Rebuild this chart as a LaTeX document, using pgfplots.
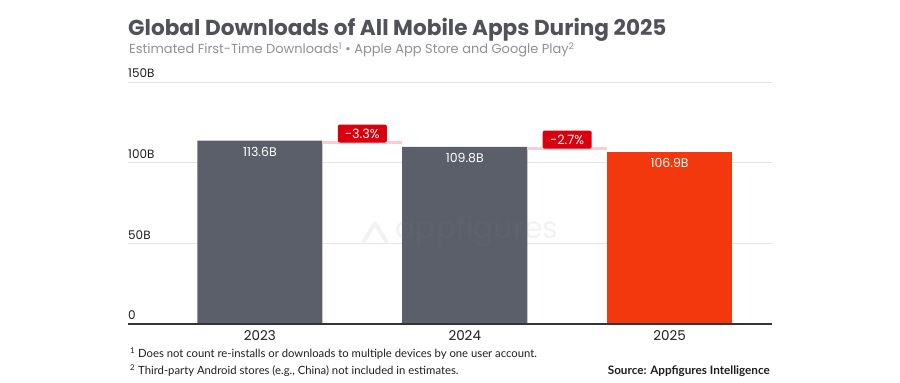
\documentclass[border=0pt]{standalone}
\usepackage{pgfplots}
\pgfplotsset{compat=1.18}
\usepackage{fontspec}
\setmainfont{Poppins}
\newfontfamily\notefont{Lato}
\definecolor{bargray}{HTML}{5A5F6A}
\definecolor{barorange}{HTML}{F2380C}
\definecolor{badgered}{HTML}{D8000F}
\definecolor{pinkline}{HTML}{F9CDD1}
\definecolor{gridgray}{HTML}{E4E4E6}
\definecolor{titlegray}{HTML}{505257}
\definecolor{subgray}{HTML}{8E9095}
\definecolor{textdark}{HTML}{1E1E22}
\begin{document}
\begin{tikzpicture}
\begin{axis}[
  anchor=south west, at={(0pt,0pt)}, scale only axis,
  width=644pt, height=242pt,
  xmin=-0.644, xmax=2.5, ymin=0, ymax=150,
  ytick={0,50,100,150}, yticklabels={0,50B,100B,150B},
  xtick={0,1,2}, xticklabels={2023,2024,2025},
  ymajorgrids, grid style={draw=gridgray, line width=0.7pt},
  axis line style={draw=none}, tick style={draw=none},
  /pgf/number format/assume math mode=true,
  yticklabel style={anchor=south west, inner sep=0pt, yshift=4pt, text=textdark, font=\fontsize{12}{12}\selectfont},
  xticklabel style={text=textdark, font=\fontsize{13.5}{13.5}\selectfont, yshift=1.5pt},
  ybar, bar width=125pt, bar shift=0pt,
  nodes near coords={\pgfmathprintnumber[fixed,fixed zerofill,precision=1]{\pgfplotspointmeta}B},
  every node near coord/.append style={anchor=north, yshift=-3pt, text=white, font=\fontsize{12.5}{12.5}\selectfont},
  clip=false,
]
\addplot[fill=bargray, draw=none] coordinates {(0,113.6) (1,109.8)};
\addplot[fill=barorange, draw=none] coordinates {(2,106.9)};
\draw[pinkline, line width=3pt] (axis cs:0.305,112.4) -- (axis cs:0.695,112.4);
\draw[pinkline, line width=3pt] (axis cs:1.305,108.6) -- (axis cs:1.695,108.6);
\node[fill=badgered, rounded corners=2pt, text=white, inner sep=0pt, minimum width=49pt, minimum height=18pt, anchor=south, font=\fontsize{12.8}{12.8}\selectfont] at (axis cs:0.5,113.6) [yshift=-2pt] {-3.3\%};
\node[fill=badgered, rounded corners=2pt, text=white, inner sep=0pt, minimum width=49pt, minimum height=18pt, anchor=south, font=\fontsize{12.8}{12.8}\selectfont] at (axis cs:1.5,109.8) [yshift=-2pt] {-2.7\%};
\draw[textdark!90, line width=1.6pt] (rel axis cs:0,0) -- (rel axis cs:1,0);
\end{axis}
\begin{scope}[x=1pt,y=1pt,shift={(-128pt,-59pt)}]
\path[use as bounding box] (0,0) rectangle (900,383);
% title
\node[anchor=base west, inner sep=0pt, text=titlegray, font=\fontsize{21.6}{22}\selectfont\bfseries] at (128,347) {Global Downloads of All Mobile Apps During 2025};
\node[anchor=base west, inner sep=0pt, text=subgray, font=\fontsize{13}{13}\selectfont] at (129,329) {Estimated First-Time Downloads\textsuperscript{1} • Apple App Store and Google Play\textsuperscript{2}};
% watermark
\draw[gray, opacity=0.10, line width=4pt, line cap=round, line join=round] (364,142) -- (375,160) -- (386,142);
\node[anchor=west, gray, opacity=0.10, font=\fontsize{30}{30}\selectfont] at (392,152) {appfigures};
% footnotes
\node[anchor=base west, inner sep=0pt, text=textdark, font=\notefont\fontsize{11.3}{11.3}\selectfont] at (130,26) {\textsuperscript{1} Does not count re-installs or downloads to multiple devices by one user account.};
\node[anchor=base west, inner sep=0pt, text=textdark, font=\notefont\fontsize{11.3}{11.3}\selectfont] at (130,9) {\textsuperscript{2} Third-party Android stores (e.g., China) not included in estimates.};
\node[anchor=base east, inner sep=0pt, text=textdark, font=\notefont\fontsize{11.7}{11.7}\selectfont\bfseries] at (770,9) {Source: Appfigures Intelligence};
\end{scope}
\end{tikzpicture}
\end{document}
